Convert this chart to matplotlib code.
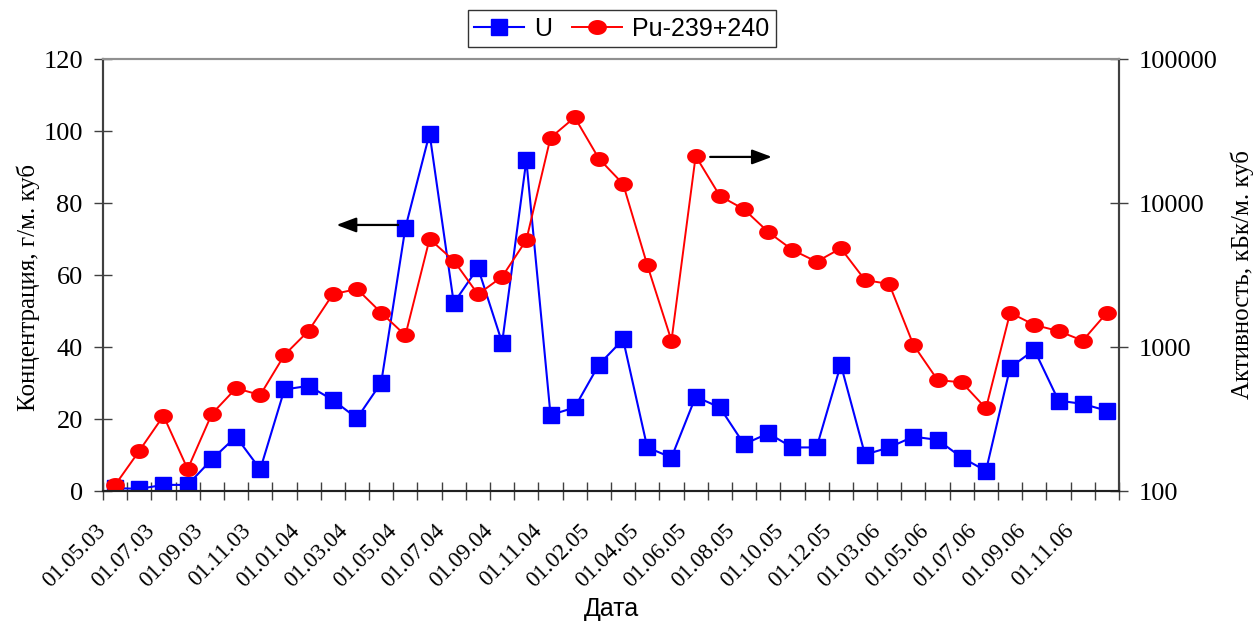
import numpy as np
import matplotlib
matplotlib.use('Agg')
import matplotlib.pyplot as plt
from matplotlib.path import Path

# ---- data ----
dates = ["01.05.03", "01.07.03", "01.09.03", "01.11.03", "01.01.04", "01.03.04",
         "01.05.04", "01.07.04", "01.09.04", "01.11.04", "01.02.05", "01.04.05",
         "01.06.05", "01.08.05", "01.10.05", "01.12.05", "01.03.06", "01.05.06",
         "01.07.06", "01.09.06", "01.11.06"]

u_values = [0.8, 0.6, 1.7, 1.7, 8.8, 15.1, 6.0, 28.2, 29.2, 25.3, 20.2, 30.1,
            73.1, 99.3, 52.2, 62.0, 41.2, 91.9, 21.1, 23.2, 35.1, 42.1, 12.1, 9.3,
            26.2, 23.2, 13.0, 16.0, 12.1, 12.1, 35.1, 10.1, 12.1, 15.1, 14.2, 9.3,
            5.6, 34.3, 39.2, 25.1, 24.2, 22.3]

pu_values = [110, 190, 333, 142, 343, 517, 464, 880, 1297, 2323, 2528, 1730,
             1205, 5623, 3980, 2323, 3076, 5534, 28400, 39350, 20320, 13550, 3707, 1107,
             21190, 11200, 9040, 6290, 4720, 3910, 4845, 2917, 2738, 1037, 590, 568,
             375, 1730, 1423, 1291, 1107, 1730]

left_ticks = [0, 20, 40, 60, 80, 100, 120]
right_ticks = [100, 1000, 10000, 100000]

# ---- figure ----
serif = ['Liberation Serif', 'DejaVu Serif']
sans = ['Liberation Sans', 'DejaVu Sans']

fig = plt.figure(figsize=(12.55, 6.26), dpi=100)
ax1 = fig.add_axes([103/1255, 1-491/626, (1119-103)/1255, (491-59)/626])
ax2 = ax1.twinx()

n = len(u_values)
x = np.arange(n)

t = np.linspace(0, 2*np.pi, 64)
ellipse = Path(np.column_stack([np.cos(t), 0.78*np.sin(t)]), closed=True)

l1, = ax1.plot(x, u_values, color='#0000FF', lw=1.5, marker='s', markersize=12,
               markeredgecolor='#0000FF', markerfacecolor='#0000FF', label='U')
l2, = ax2.plot(x, pu_values, color='#FF0000', lw=1.4, marker=ellipse, markersize=12.5,
               markeredgecolor='#FF0000', markerfacecolor='#FF0000', label='Pu-239+240')

ax1.set_xlim(-0.5, n - 0.5)
ax1.set_ylim(0, 120)
ax2.set_yscale('log')
ax2.set_ylim(100, 100000)

# x ticks at category boundaries, label every second boundary
bounds = np.arange(n + 1) - 0.5
xlabels = [dates[k // 2] if (k % 2 == 0 and k // 2 < len(dates)) else '' for k in range(n + 1)]
ax1.set_xticks(bounds)
ax1.set_xticklabels(xlabels, rotation=45, ha='right', va='center',
                    rotation_mode='anchor', fontfamily=serif, fontsize=16.5)
ax1.tick_params(axis='x', direction='inout', length=13, width=1, pad=20, color='#404040')

ax1.set_yticks(left_ticks)
ax1.set_yticklabels([str(v) for v in left_ticks], fontfamily=serif, fontsize=19)
ax1.tick_params(axis='y', direction='inout', length=13, width=1, pad=8, color='#404040')

ax2.set_yticks(right_ticks)
ax2.set_yticklabels([str(v) for v in right_ticks], fontfamily=serif, fontsize=19)
ax2.yaxis.set_minor_locator(matplotlib.ticker.NullLocator())
ax2.tick_params(axis='y', direction='inout', length=13, width=1, pad=8, color='#404040')

for ax in (ax1, ax2):
    ax.spines['top'].set_color('#909090')
    ax.spines['top'].set_linewidth(1.5)
    ax.spines['left'].set_color('#404040')
    ax.spines['right'].set_color('#404040')
    ax.spines['bottom'].set_color('#202020')
    for s in ('left', 'right', 'bottom'):
        ax.spines[s].set_linewidth(1.5)

ax1.set_ylabel('Концентрация, г/м. куб', fontfamily=serif, fontsize=18, labelpad=2)
ax1.yaxis.label.set_y(0.472)
ax2.set_ylabel('Активность, кБк/м. куб', fontfamily=serif, fontsize=18, labelpad=9)
ax1.set_xlabel('Дата', fontfamily=sans, fontsize=18, labelpad=4)

# direction arrows
ax1.annotate('', xy=(9.15, 73.9), xytext=(11.7, 73.9),
             arrowprops=dict(arrowstyle='-|>,head_length=1.2,head_width=0.45',
                             color='black', lw=1.6, shrinkA=0, shrinkB=0))
ax1.annotate('', xy=(27.15, 92.8), xytext=(24.6, 92.8),
             arrowprops=dict(arrowstyle='-|>,head_length=1.2,head_width=0.45',
                             color='black', lw=1.6, shrinkA=0, shrinkB=0))

leg = fig.legend(handles=[l1, l2], loc='center', bbox_to_anchor=(622/1255, 1-28.5/626),
                 ncol=2, frameon=True, fancybox=False, edgecolor='black',
                 prop={'family': sans, 'size': 18}, handlelength=2.0,
                 handletextpad=0.4, columnspacing=0.8, borderpad=0.25,
                 borderaxespad=0)
leg.get_frame().set_linewidth(1.0)

fig.savefig('out.png', dpi=100)
